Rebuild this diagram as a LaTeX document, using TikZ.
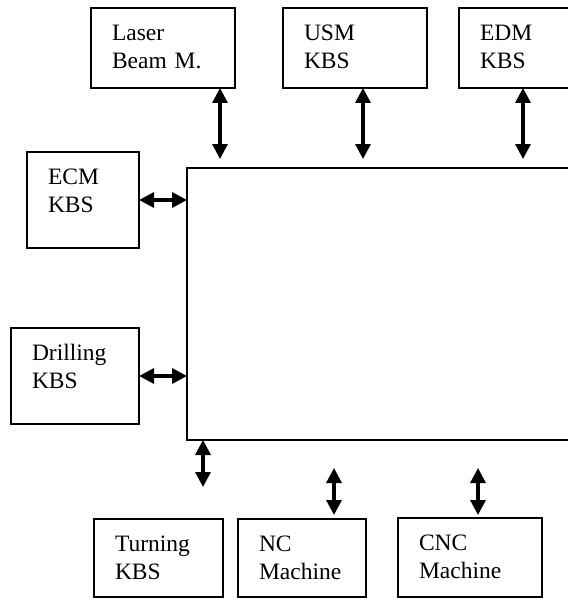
\documentclass[tikz,border=0pt]{standalone}
\usepackage{fontspec}
\setmainfont{Liberation Serif}
\usetikzlibrary{arrows.meta}

\begin{document}
\begin{tikzpicture}[x=1pt,y=-1pt,
  kbs/.style={draw,line width=1.2pt,anchor=north west,align=left,outer sep=0pt,
    inner xsep=21pt,inner ysep=0pt,text height=32.5pt,font=\fontsize{23.5}{28}\selectfont},
  hubbox/.style={draw,line width=1.2pt,anchor=north west,outer sep=0pt,inner sep=0pt},
  link/.style={{Triangle[length=15pt,width=15pt]}-{Triangle[length=15pt,width=15pt]},line width=3.2pt}]
  \clip (0,0) rectangle (568,599);
  % central knowledge base
  \node[hubbox,minimum width=430pt,minimum height=272pt] (hub) at (187,168) {};
  % top row
  \node[kbs,text width=102pt,text depth=47.5pt] (laser) at (91,8) {Laser\\Beam M.};
  \node[kbs,text width=102pt,text depth=47.5pt] (usm) at (283,8) {USM\\KBS};
  \node[kbs,text width=120pt,text depth=47.5pt] (edm) at (459,8) {EDM\\KBS};
  % left column
  \node[kbs,text width=70pt,text depth=63.5pt] (ecm) at (27,152) {ECM\\KBS};
  \node[kbs,text width=86pt,text depth=63.5pt] (drill) at (11,328) {Drilling\\KBS};
  % bottom row
  \node[kbs,text width=87pt,text depth=45.5pt] (turn) at (94,519) {Turning\\KBS};
  \node[kbs,text width=86pt,text depth=45.5pt] (nc) at (238,519) {NC\\Machine};
  \node[kbs,text width=102pt,text depth=46.5pt] (cnc) at (398,518) {CNC\\Machine};
  % free ends of the links
  \coordinate (laserend) at (220,159);
  \coordinate (usmend) at (363,159);
  \coordinate (edmend) at (523,159);
  \coordinate (turnend) at (203,487);
  \coordinate (ncend) at (334,468);
  \coordinate (cncend) at (478,468);
  % links
  \draw[link] (laser.south -| laserend) -- (laserend);
  \draw[link] (usm.south -| usmend) -- (usmend);
  \draw[link] (edm.south -| edmend) -- (edmend);
  \draw[link] (ecm.east) -- (hub.west |- ecm.east);
  \draw[link] (drill.east) -- (hub.west |- drill.east);
  \draw[link] (hub.south -| turnend) -- (turnend);
  \draw[link,shorten <=4pt] (nc.north -| ncend) -- (ncend);
  \draw[link,shorten <=3pt] (cnc.north -| cncend) -- (cncend);
\end{tikzpicture}
\end{document}
